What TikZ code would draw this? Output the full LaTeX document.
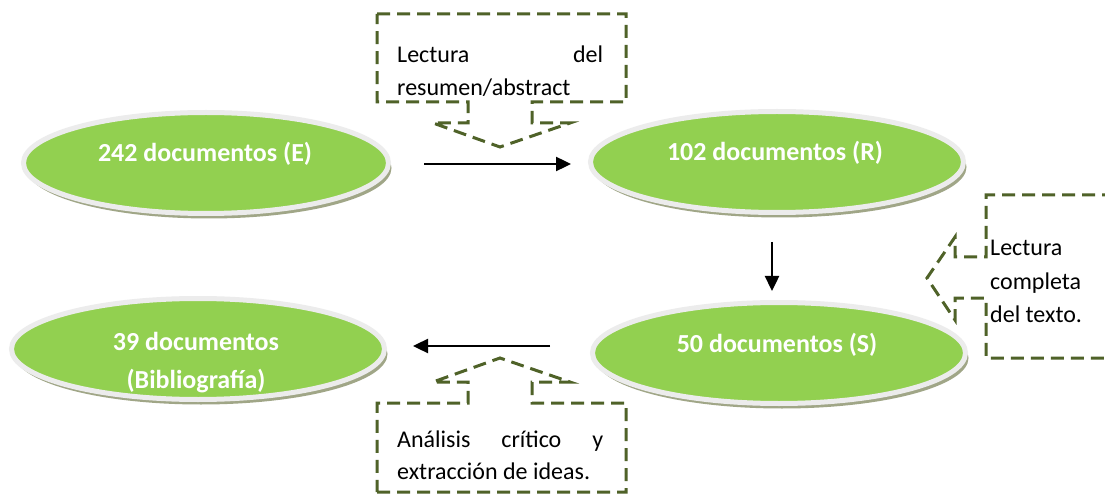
\documentclass[tikz,border=0pt]{standalone}
\usepackage{fontspec}
\setmainfont{Carlito}
\usetikzlibrary{shapes.geometric,arrows.meta,shadows,calc}
\definecolor{docgreen}{RGB}{146,208,80}
\definecolor{rimgray}{RGB}{236,236,236}
\definecolor{shadowc}{RGB}{160,166,135}
\definecolor{olive}{RGB}{79,98,40}
\tikzset{
  doc/.style={ellipse, minimum width=#1, minimum height=101, inner sep=0pt,
    fill=docgreen, draw=rimgray, line width=5pt,
    drop shadow={shadow xshift=3pt, shadow yshift=-5pt, fill=shadowc, opacity=1}},
  doctext/.style={font=\fontsize{26}{38}\selectfont\bfseries, text=white, inner sep=0pt, anchor=base},
  callout/.style={draw=olive, line width=3pt, dash pattern=on 13pt off 7pt, line join=miter},
  ctext/.style={font=\fontsize{24}{32}\selectfont, text=black, inner sep=0pt, anchor=base west},
  arr/.style={draw=black, line width=2.4pt, -{Triangle[length=15pt,width=14pt]}}
}
\begin{document}
\begin{tikzpicture}[x=1pt,y=-1pt]
\clip (0,0) rectangle (1105,494);
\fill[white] (0,0) rectangle (1105,494);

% ellipses
\node[doc=365] (E) at (206,163) {};
\node[doc=373] (R) at (777,162) {};
\node[doc=373] (S) at (779,353) {};
\node[doc=373] (B) at (198,349) {};

\node[doctext] (Et) at (205,162) {242 documentos (E)};
\node[doctext] (Rt) at (775,161) {102 documentos (R)};
\node[doctext] (St) at (777,352) {50 documentos (S)};
\node[doctext] (Bt1) at (196,350) {39 documentos};
\node[doctext] (Bt2) at (196,388) {(Bibliografía)};

% arrows
\draw[arr] ($(E.east)+(0,1)$) ++(33,0) coordinate (a1) -- ($(R.west)+(-17,2)$) coordinate (a2);
\draw[arr] ($(R.south)+(-5,27)$) coordinate (b1) -- ($(S.north)+(-7,-9)$) coordinate (b2);
\draw[arr] ($(S.west)+(-40,-7)$) coordinate (c1) -- ($(B.east)+(26,-3)$) coordinate (c2);

% top callout
\draw[callout] (377,14) -- (626,14) -- (626,102) -- (532,102) -- (532,123) -- (570,123)
  -- (500,147) -- (433,123) -- (468,123) -- (468,102) -- (377,102) -- cycle;
\node[ctext] (t1) at (397,63) {\hbox to 206pt{Lectura\hfill del}};
\node[ctext] (t2) at (397,96) {resumen/abstract};

% right callout
\draw[callout] (1115,195) -- (986,195) -- (986,257) -- (955,257) -- (955,237) -- (927,278)
  -- (955,320) -- (955,298) -- (986,298) -- (986,358) -- (1115,358);
\node[ctext] (r1) at (990,256) {Lectura};
\node[ctext] (r2) at (990,289) {completa};
\node[ctext] (r3) at (990,322) {del texto.};

% bottom callout
\draw[callout] (377,492) -- (626,492) -- (626,403) -- (532,403) -- (532,382) -- (570,382)
  -- (500,358) -- (433,382) -- (468,382) -- (468,403) -- (377,403) -- cycle;
\node[ctext] (u1) at (397,447) {\hbox to 206pt{Análisis\hfill crítico\hfill y}};
\node[ctext] (u2) at (397,479) {extracción de ideas.};
\end{tikzpicture}
\end{document}
